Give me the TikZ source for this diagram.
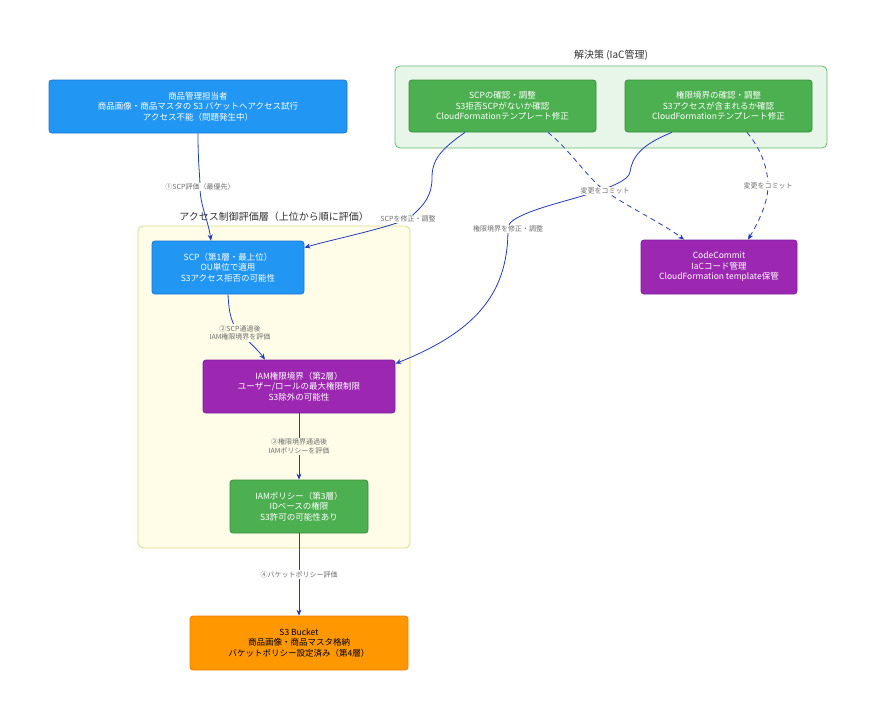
\documentclass[tikz,border=0pt]{standalone}
\usepackage{fontspec}
\setmainfont{Noto Sans CJK JP}
\usetikzlibrary{arrows.meta}
\definecolor{boxblue}{RGB}{33,150,243}
\definecolor{boxblueline}{RGB}{25,118,210}
\definecolor{boxgreen}{RGB}{76,175,80}
\definecolor{boxgreenline}{RGB}{56,142,60}
\definecolor{boxpurple}{RGB}{156,39,176}
\definecolor{boxpurpleline}{RGB}{123,31,162}
\definecolor{boxorange}{RGB}{255,152,0}
\definecolor{boxorangeline}{RGB}{245,124,0}
\definecolor{groupyellow}{RGB}{255,253,231}
\definecolor{groupyellowline}{RGB}{222,218,140}
\definecolor{groupgreen}{RGB}{232,245,233}
\definecolor{groupgreenline}{RGB}{102,187,106}
\definecolor{arrowblue}{RGB}{35,60,190}
\definecolor{labelgray}{RGB}{110,110,110}
\definecolor{titlegray}{RGB}{51,51,51}
\tikzset{
  box/.style={draw,rounded corners=3pt,line width=0.8pt,align=center,
              text=white,inner sep=0pt,font=\fontsize{8.5}{10.5}\selectfont},
  grp/.style={draw,rounded corners=5pt,line width=0.8pt,inner sep=0pt},
  grptitle/.style={anchor=south,text=titlegray,inner sep=0pt,
                   font=\fontsize{10}{12}\selectfont},
  flow/.style={draw=arrowblue,line width=0.8pt,
               -{Stealth[length=6pt,width=5pt]}},
  commit/.style={flow,dash pattern=on 5pt off 4pt},
  lbl/.style={font=\fontsize{7}{8.5}\selectfont,text=labelgray,
              align=center,inner sep=1pt},
}

\begin{document}
\begin{tikzpicture}[x=1pt,y=-1pt]
  \useasboundingbox[fill=white] (0,0) rectangle (876,720);

  % groups
  \node[grp,fill=groupgreen,draw=groupgreenline,
        minimum width=432,minimum height=82] (soln) at (611,107) {};
  \node[grptitle] (solntitle) at ([yshift=5pt]soln.north) {解決策 (IaC管理)};
  \node[grp,fill=groupyellow,draw=groupyellowline,
        minimum width=272,minimum height=322] (access) at (274,387) {};
  \node[grptitle] (accesstitle) at ([yshift=4pt]access.north)
    {アクセス制御評価層（上位から順に評価）};

  % boxes
  \node[box,fill=boxblue,draw=boxblueline,minimum width=298,minimum height=53]
    (mgr) at (198,106.5)
    {商品管理担当者\\商品画像・商品マスタの S3 バケットへアクセス試行\\アクセス不能（問題発生中）};
  \node[box,fill=boxgreen,draw=boxgreenline,minimum width=187,minimum height=52]
    (fixscp) at (502.5,106)
    {SCPの確認・調整\\S3拒否SCPがないか確認\\CloudFormationテンプレート修正};
  \node[box,fill=boxgreen,draw=boxgreenline,minimum width=187,minimum height=52]
    (fixpb) at (718.5,106)
    {権限境界の確認・調整\\S3アクセスが含まれるか確認\\CloudFormationテンプレート修正};
  \node[box,fill=boxblue,draw=boxblueline,minimum width=152,minimum height=53]
    (scp) at (228,267.5)
    {SCP（第1層・最上位）\\OU単位で適用\\S3アクセス拒否の可能性};
  \node[box,fill=boxpurple,draw=boxpurpleline,minimum width=192,minimum height=53]
    (pb) at (299,386.5)
    {IAM権限境界（第2層）\\ユーザー/ロールの最大権限制限\\S3除外の可能性};
  \node[box,fill=boxgreen,draw=boxgreenline,minimum width=138,minimum height=53]
    (pol) at (299,506.5)
    {IAMポリシー（第3層）\\IDベースの権限\\S3許可の可能性あり};
  \node[box,fill=boxorange,draw=boxorangeline,text=black,
        minimum width=218,minimum height=54]
    (bucket) at (299,643)
    {S3 Bucket\\商品画像・商品マスタ格納\\バケットポリシー設定済み（第4層）};
  \node[box,fill=boxpurple,draw=boxpurpleline,minimum width=156,minimum height=54]
    (cc) at (719,267)
    {CodeCommit\\IaCコード管理\\CloudFormation template保管};

  % evaluation order
  \draw[flow] (mgr.south) .. controls (198,165) and (200,175) .. (200,187)
    node[lbl,fill=white] {①SCP評価（最優先）}
    .. controls (200,205) and (208,220) .. ([xshift=-17pt]scp.north);
  \draw[flow] (scp.south) .. controls (229,315) and (232,325) .. (240,333)
    node[lbl,fill=groupyellow] {②SCP通過後\\IAM権限境界を評価}
    .. controls (250,343) and (258,350) .. ([xshift=-34pt]pb.north);
  \draw[flow] (pb.south) -- node[lbl,fill=groupyellow]
    {③権限境界通過後\\IAMポリシーを評価} (pol.north);
  \draw[flow] (pol.south) -- node[lbl,fill=white]
    {④バケットポリシー評価} (bucket.north);

  % fixes
  \draw[flow] ([xshift=-37.5pt]fixscp.south) .. controls (440,150) and (432,160) .. (432,178)
    .. controls (432,195) and (425,205) .. (408,219)
    node[lbl,fill=white] {SCPを修正・調整}
    .. controls (380,230) and (330,240) .. ([yshift=-7pt]scp.north east);
  \draw[flow] ([xshift=-46.5pt]fixpb.south) .. controls (640,145) and (632,158) .. (630,172)
    .. controls (628,188) and (560,200) .. (530,212)
    .. controls (515,218) and (508,222) .. (508,229)
    node[lbl,fill=white] {権限境界を修正・調整}
    .. controls (508,290) and (480,330) .. ([yshift=-4pt]pb.north east);
  \draw[commit] ([xshift=45.5pt]fixscp.south) .. controls (570,150) and (585,175) .. (605,191)
    node[lbl,fill=white] {変更をコミット}
    .. controls (630,208) and (665,225) .. ([xshift=-35pt]cc.north);
  \draw[commit] ([xshift=28.5pt]fixpb.south) .. controls (762,150) and (768,170) .. (768,186)
    node[lbl,fill=white] {変更をコミット}
    .. controls (768,205) and (755,228) .. ([xshift=29pt]cc.north);
\end{tikzpicture}
\end{document}
